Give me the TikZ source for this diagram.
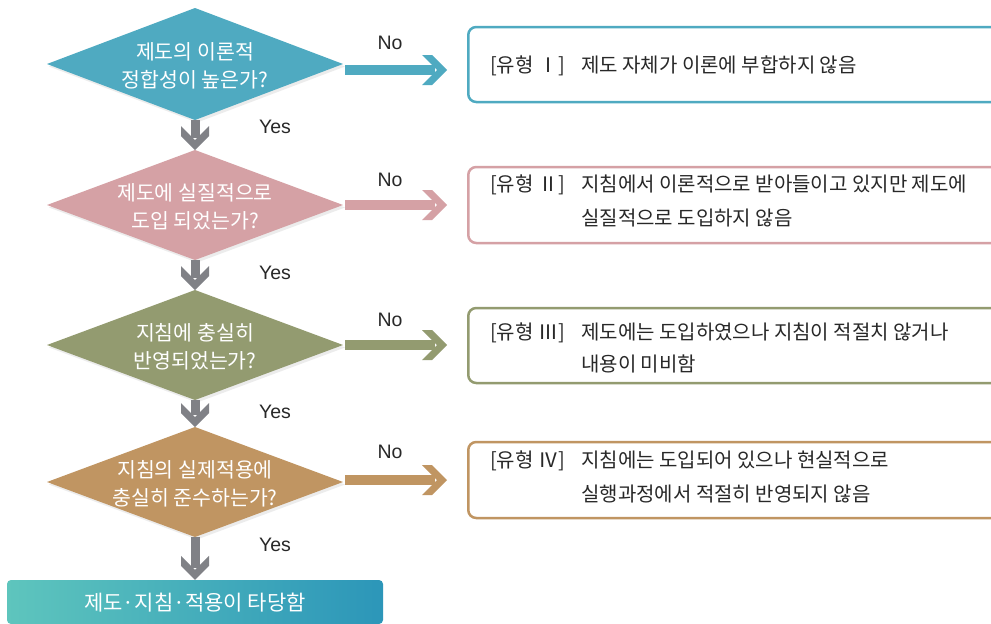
\documentclass[tikz,border=0pt]{standalone}
\usepackage{fontspec}
\setmainfont{Liberation Sans}
\newfontfamily\kr{Noto Sans CJK KR}
\usetikzlibrary{shapes.geometric,calc,shadows}
\definecolor{cTeal}{RGB}{79,170,193}
\definecolor{cPink}{RGB}{213,161,165}
\definecolor{cOlive}{RGB}{147,155,112}
\definecolor{cTan}{RGB}{192,149,98}
\definecolor{cGray}{RGB}{128,129,134}
\definecolor{cTxt}{RGB}{40,40,40}
\definecolor{gLeft}{RGB}{94,197,189}
\definecolor{gRight}{RGB}{44,150,185}
\newcommand\RArr[3]{%
  \fill[#3] ($(#1)+(0,-5)$) rectangle ($(#2)+(-12,5)$);
  \fill[#3] ($(#2)+(-15,-15)$) -- (#2) -- ($(#2)+(-15,15)$) -- ($(#2)+(-25,15)$) -- ($(#2)+(-10,0)$) -- ($(#2)+(-25,-15)$) -- cycle;}
\newcommand\DArr[2]{%
  \fill[cGray] ($(#1)+(-4.5,0)$) rectangle ($(#2)+(4.5,-12)$);
  \fill[cGray] ($(#2)+(-14,-14)$) -- (#2) -- ($(#2)+(14,-14)$) -- ($(#2)+(14,-24)$) -- ($(#2)+(0,-10)$) -- ($(#2)+(-14,-24)$) -- cycle;}
\tikzset{
  dia/.style={diamond, minimum width=296pt, minimum height=110pt, inner sep=0pt, outer sep=0pt,
    drop shadow={shadow xshift=2pt, shadow yshift=-2.5pt, opacity=0.15}},
  diatext/.style={text=white, align=center, font=\kr\fontsize{20.5}{28}\selectfont, inner sep=0pt},
  rbox/.style={draw, line width=2.5pt, rounded corners=8pt, fill=white, minimum width=560pt, anchor=west, inner sep=0pt},
  btext/.style={text=cTxt, font=\kr\fontsize{20}{22}\selectfont, anchor=base west, inner sep=0pt},
  lbl/.style={text=cTxt, font=\fontsize{19.5}{22}\selectfont, inner sep=0pt},
}
\begin{document}
\begin{tikzpicture}[x=1pt,y=-1pt]
\useasboundingbox (0,0) rectangle (991,624);
\clip (0,0) rectangle (991,624);
\fill[white] (0,0) rectangle (991,624);

% diamonds
\node[dia, fill=cTeal, minimum height=112pt] (d1) at (195,64) {};
\node[dia, fill=cPink] (d2) at (195,205) {};
\node[dia, fill=cOlive] (d3) at (195,345) {};
\node[dia, fill=cTan] (d4) at (195,482) {};
\node[diatext] (t1) at (195,66) {제도의 이론적\\정합성이 높은가?};
\node[diatext] (t2) at (195,207) {제도에 실질적으로\\도입 되었는가?};
\node[diatext] (t3) at (195,347) {지침에 충실히\\반영되었는가?};
\node[diatext] (t4) at (195,484) {지침의 실제적용에\\충실히 준수하는가?};

% final box
\node[left color=gLeft, right color=gRight, rounded corners=4pt, minimum width=376pt, minimum height=44pt, inner sep=0pt] (f) at (195,602) {};
\node[text=white, font=\kr\fontsize{21}{26}\selectfont, inner sep=0pt] (ft) at (195,603) {제도·지침·적용이 타당함};

% result boxes
\node[rbox, draw=cTeal, minimum height=75pt] (b1) at (467,64.5) {};
\node[rbox, draw=cPink, minimum height=76pt] (b2) at (467,205) {};
\node[rbox, draw=cOlive, minimum height=75pt] (b3) at (467,345.5) {};
\node[rbox, draw=cTan, minimum height=76pt] (b4) at (467,480) {};

\node[btext] (l1) at (490,72) {[유형 Ⅰ]};
\node[btext] (x1) at (581,72) {제도 자체가 이론에 부합하지 않음};
\node[btext] (l2) at (490,191) {[유형 Ⅱ]};
\node[btext] (x2a) at (581,191) {지침에서 이론적으로 받아들이고 있지만 제도에};
\node[btext] (x2b) at (581,225) {실질적으로 도입하지 않음};
\node[btext] (l3) at (490,339) {[유형 Ⅲ]};
\node[btext] (x3a) at (581,339) {제도에는 도입하였으나 지침이 적절치 않거나};
\node[btext] (x3b) at (581,371) {내용이 미비함};
\node[btext] (l4) at (490,467) {[유형 Ⅳ]};
\node[btext] (x4a) at (581,467) {지침에는 도입되어 있으나 현실적으로};
\node[btext] (x4b) at (581,501) {실행과정에서 적절히 반영되지 않음};

% right arrows
\coordinate (r1s) at ($(d1.east)+(2,6)$);
\coordinate (r1e) at ($(b1.west |- r1s)+(-20,0)$);
\coordinate (r2s) at ($(d2.east)+(2,0)$);
\coordinate (r2e) at ($(b2.west |- r2s)+(-20,0)$);
\coordinate (r3s) at ($(d3.east)+(2,0)$);
\coordinate (r3e) at ($(b3.west |- r3s)+(-20,0)$);
\coordinate (r4s) at ($(d4.east)+(2,-2)$);
\coordinate (r4e) at ($(b4.west |- r4s)+(-20,0)$);
\RArr{r1s}{r1e}{cTeal}
\RArr{r2s}{r2e}{cPink}
\RArr{r3s}{r3e}{cOlive}
\RArr{r4s}{r4e}{cTan}

% down arrows
\DArr{d1.south}{d2.north}
\DArr{d2.south}{d3.north}
\DArr{d3.south}{d4.north}
\DArr{d4.south}{f.north}

% labels
\node[lbl] (n1) at (390,43) {No};
\node[lbl] (n2) at (390,180) {No};
\node[lbl] (n3) at (390,320) {No};
\node[lbl] (n4) at (390,452) {No};
\node[lbl] (y1) at (275,127) {Yes};
\node[lbl] (y2) at (275,273) {Yes};
\node[lbl] (y3) at (275,412) {Yes};
\node[lbl] (y4) at (275,545) {Yes};
\end{tikzpicture}
\end{document}
